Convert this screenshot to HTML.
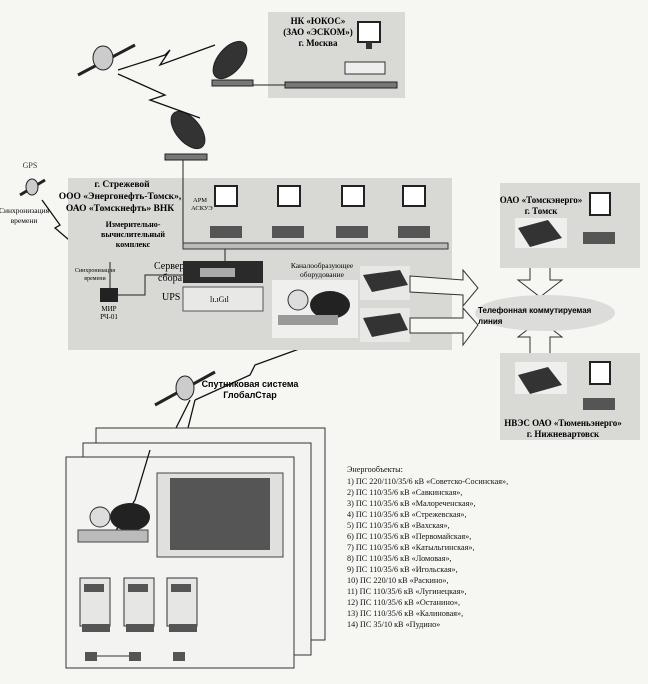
<!DOCTYPE html>
<html><head><meta charset="utf-8"><style>
html,body{margin:0;padding:0;background:#f6f6f3;}
svg{display:block;font-family:"Liberation Serif","Noto Serif CJK SC",serif;}
.s{font-family:"Liberation Sans",sans-serif;}
</style></head><body>
<svg width="648" height="684" viewBox="0 0 648 684" xmlns="http://www.w3.org/2000/svg">
<rect width="648" height="684" fill="#f6f6f3"/>
<!-- Moscow box -->
<rect x="268" y="12" width="137" height="86" fill="#d9d9d6"/>
<text x="318" y="24" font-size="9" font-weight="bold" text-anchor="middle">НК «ЮКОС»</text>
<text x="318" y="35" font-size="9" font-weight="bold" text-anchor="middle">(ЗАО «ЭСКОМ»)</text>
<text x="318" y="46" font-size="9" font-weight="bold" text-anchor="middle">г. Москва</text>
<rect x="358" y="22" width="22" height="20" fill="#fff" stroke="#222" stroke-width="2"/>
<rect x="366" y="42" width="6" height="7" fill="#333"/>
<rect x="345" y="62" width="40" height="12" fill="#eee" stroke="#333"/>
<rect x="285" y="82" width="112" height="6" fill="#777" stroke="#222"/>
<line x1="253" y1="85" x2="285" y2="85" stroke="#222"/>
<!-- satellites, dishes -->
<g stroke="#222" fill="#555">
<line x1="78" y1="75" x2="135" y2="45" stroke-width="3"/>
<ellipse cx="103" cy="58" rx="10" ry="12" fill="#ccc"/>
<ellipse cx="230" cy="60" rx="12" ry="22" transform="rotate(40 230 60)" fill="#333"/>
<rect x="212" y="80" width="41" height="6" fill="#777"/>
<ellipse cx="188" cy="130" rx="12" ry="22" transform="rotate(-40 188 130)" fill="#333"/>
<rect x="165" y="154" width="42" height="6" fill="#777"/>
<line x1="20" y1="195" x2="45" y2="180" stroke-width="3"/>
<ellipse cx="32" cy="187" rx="6" ry="8" fill="#ccc"/>
<line x1="155" y1="405" x2="215" y2="372" stroke-width="3"/>
<ellipse cx="185" cy="388" rx="9" ry="12" fill="#ccc"/>
</g>
<g fill="none" stroke="#111" stroke-width="1.3">
<polyline points="118,70 165,55 170,50 160,65 215,45"/>
<polyline points="118,74 165,95 150,100 200,118"/>
<polyline points="42,200 60,225 55,228 75,245 72,248 100,262"/>
<polyline points="310,345 255,365 250,375 195,400"/>
<polyline points="190,400 170,440 160,430 150,450 130,500 110,540"/>
<polyline points="195,400 185,440 180,445 175,470"/>
</g>
<!-- main box -->
<rect x="68" y="178" width="384" height="172" fill="#d8d8d5"/>
<text x="30" y="168" font-size="8" fill="#333" text-anchor="middle">GPS</text>
<text x="24" y="213" font-size="7.5" text-anchor="middle">Синхронизация</text>
<text x="24" y="223" font-size="7.5" text-anchor="middle">времени</text>
<text x="122" y="187" font-size="9.5" font-weight="bold" text-anchor="middle">г. Стрежевой</text>
<text x="120" y="199" font-size="9.5" font-weight="bold" text-anchor="middle">ООО «Энергонефть-Томск»,</text>
<text x="120" y="211" font-size="9.5" font-weight="bold" text-anchor="middle">ОАО «Томскнефть» ВНК</text>
<text x="133" y="227" font-size="8" font-weight="bold" text-anchor="middle">Измерительно-</text>
<text x="133" y="237" font-size="8" font-weight="bold" text-anchor="middle">вычислительный</text>
<text x="133" y="247" font-size="8" font-weight="bold" text-anchor="middle">комплекс</text>
<text x="193" y="202" font-size="6.5">АРМ</text>
<text x="191" y="210" font-size="6.5">АСКУЭ</text>
<text x="95" y="272" font-size="6" text-anchor="middle">Синхронизация</text>
<text x="95" y="280" font-size="6" text-anchor="middle">времени</text>
<line x1="110" y1="262" x2="110" y2="288" stroke="#222"/>
<rect x="100" y="288" width="18" height="14" fill="#222"/>
<text x="109" y="311" font-size="7" text-anchor="middle">МИР</text>
<text x="109" y="319" font-size="7" text-anchor="middle">РЧ-01</text>
<polyline points="118,295 145,295 145,275 183,275" fill="none" stroke="#222"/>
<text x="154" y="269" font-size="10">Сервер</text>
<text x="158" y="281" font-size="10">сбора</text>
<text x="162" y="300" font-size="10">UPS</text>
<rect x="183" y="261" width="80" height="22" fill="#2a2a2a"/>
<rect x="200" y="268" width="35" height="9" fill="#aaa"/>
<rect x="183" y="287" width="80" height="24" fill="#e8e8e6" stroke="#555"/>
<text x="210" y="302" font-size="8">lı.ıGıl</text>
<line x1="183" y1="160" x2="183" y2="245" stroke="#222"/>
<rect x="183" y="243" width="265" height="6" fill="#bbb" stroke="#333"/>
<line x1="225" y1="249" x2="225" y2="261" stroke="#222"/>
<g fill="#fff" stroke="#222" stroke-width="2">
<rect x="215" y="186" width="22" height="20"/><rect x="278" y="186" width="22" height="20"/>
<rect x="342" y="186" width="22" height="20"/><rect x="403" y="186" width="22" height="20"/>
</g>
<g fill="#555">
<rect x="210" y="226" width="32" height="12"/><rect x="272" y="226" width="32" height="12"/>
<rect x="336" y="226" width="32" height="12"/><rect x="398" y="226" width="32" height="12"/>
</g>
<text x="322" y="268" font-size="7.5" text-anchor="middle">Каналообразующее</text>
<text x="322" y="277" font-size="7.5" text-anchor="middle">оборудование</text>
<rect x="272" y="280" width="86" height="58" fill="#efefed"/>
<ellipse cx="298" cy="300" rx="10" ry="10" fill="#ddd" stroke="#333"/>
<ellipse cx="330" cy="305" rx="20" ry="14" fill="#222"/>
<rect x="278" y="315" width="60" height="10" fill="#999"/>
<rect x="360" y="266" width="50" height="34" fill="#e8e8e6"/>
<rect x="360" y="308" width="50" height="34" fill="#e8e8e6"/>
<g fill="#333"><polygon points="363,275 400,270 408,285 372,292"/><polygon points="363,318 400,313 408,330 372,337"/></g>
<!-- arrows -->
<g fill="#f6f6f3" stroke="#333">
<polygon points="410,276 463,280 463,270 478,288 463,306 463,295 410,292"/>
<polygon points="410,318 463,318 463,308 478,325 463,345 463,333 410,333"/>
<polygon points="530,262 550,262 550,280 562,280 540,297 518,280 530,280"/>
<polygon points="530,355 550,355 550,337 562,337 540,320 518,337 530,337"/>
</g>
<ellipse cx="545" cy="313" rx="70" ry="18" fill="#dcdcda"/>
<text x="478" y="313" font-size="8" font-weight="bold" class="s">Телефонная коммутируемая</text>
<text x="478" y="324" font-size="8" font-weight="bold" class="s">линия</text>
<!-- Tomsk -->
<rect x="500" y="183" width="140" height="85" fill="#d9d9d6"/>
<text x="541" y="203" font-size="9" font-weight="bold" text-anchor="middle">ОАО «Томскэнерго»</text>
<text x="541" y="214" font-size="9" font-weight="bold" text-anchor="middle">г. Томск</text>
<rect x="515" y="218" width="52" height="30" fill="#efefed"/>
<polygon points="518,228 548,220 562,238 530,247" fill="#333"/>
<rect x="590" y="193" width="20" height="22" fill="#fff" stroke="#222" stroke-width="2"/>
<rect x="583" y="232" width="32" height="12" fill="#555"/>
<!-- Tyumen -->
<rect x="500" y="353" width="140" height="87" fill="#d9d9d6"/>
<rect x="515" y="362" width="52" height="32" fill="#efefed"/>
<polygon points="518,375 548,367 562,385 530,394" fill="#333"/>
<rect x="590" y="362" width="20" height="22" fill="#fff" stroke="#222" stroke-width="2"/>
<rect x="583" y="398" width="32" height="12" fill="#555"/>
<text x="563" y="426" font-size="9" font-weight="bold" text-anchor="middle">НВЭС ОАО «Тюменьэнерго»</text>
<text x="563" y="437" font-size="9" font-weight="bold" text-anchor="middle">г. Нижневартовск</text>
<text x="250" y="387" font-size="9" font-weight="bold" class="s" text-anchor="middle">Спутниковая система</text>
<text x="250" y="398" font-size="9" font-weight="bold" class="s" text-anchor="middle">ГлобалСтар</text>
<!-- pages -->
<rect x="96" y="428" width="229" height="212" fill="#f3f3f1" stroke="#333"/>
<rect x="83" y="443" width="228" height="212" fill="#f3f3f1" stroke="#333"/>
<rect x="66" y="457" width="228" height="211" fill="#f3f3f1" stroke="#333"/>
<polyline points="150,450 135,500 110,540" fill="none" stroke="#111" stroke-width="1.3"/>
<rect x="157" y="473" width="126" height="84" fill="#e0e0de" stroke="#444"/>
<rect x="170" y="478" width="100" height="72" fill="#555"/>
<ellipse cx="100" cy="517" rx="10" ry="10" fill="#ddd" stroke="#333"/>
<ellipse cx="130" cy="517" rx="20" ry="14" fill="#222"/>
<rect x="78" y="530" width="70" height="12" fill="#bbb" stroke="#444"/>
<g fill="#e6e6e4" stroke="#333">
<rect x="80" y="578" width="30" height="48"/><rect x="124" y="578" width="30" height="48"/><rect x="167" y="578" width="30" height="48"/>
</g>
<g fill="#555"><rect x="84" y="584" width="20" height="8"/><rect x="128" y="584" width="20" height="8"/><rect x="171" y="584" width="20" height="8"/>
<rect x="82" y="624" width="28" height="8"/><rect x="126" y="624" width="28" height="8"/><rect x="169" y="624" width="28" height="8"/>
<rect x="85" y="652" width="12" height="9"/><rect x="129" y="652" width="12" height="9"/><rect x="173" y="652" width="12" height="9"/></g>
<polyline points="97,656 129,656 M141,656 173,656 M185,656 210,656 210,556" fill="none" stroke="#333"/>
<g font-size="8.2" fill="#111">
<text x="347" y="472">Энергообъекты:</text>
<text x="347" y="484">1) ПС 220/110/35/6 кВ «Советско-Сосинская»,</text>
<text x="347" y="495">2) ПС 110/35/6 кВ «Савкинская»,</text>
<text x="347" y="506">3) ПС 110/35/6 кВ «Малореченская»,</text>
<text x="347" y="517">4) ПС 110/35/6 кВ «Стрежевская»,</text>
<text x="347" y="528">5) ПС 110/35/6 кВ «Вахская»,</text>
<text x="347" y="539">6) ПС 110/35/6 кВ «Первомайская»,</text>
<text x="347" y="550">7) ПС 110/35/6 кВ «Катыльгинская»,</text>
<text x="347" y="561">8) ПС 110/35/6 кВ «Ломовая»,</text>
<text x="347" y="572">9) ПС 110/35/6 кВ «Игольская»,</text>
<text x="347" y="583">10) ПС 220/10 кВ «Раскино»,</text>
<text x="347" y="594">11) ПС 110/35/6 кВ «Лугинецкая»,</text>
<text x="347" y="605">12) ПС 110/35/6 кВ «Останино»,</text>
<text x="347" y="616">13) ПС 110/35/6 кВ «Калиновая»,</text>
<text x="347" y="627">14) ПС 35/10 кВ «Пудино»</text>
</g>
</svg>
</body></html>
